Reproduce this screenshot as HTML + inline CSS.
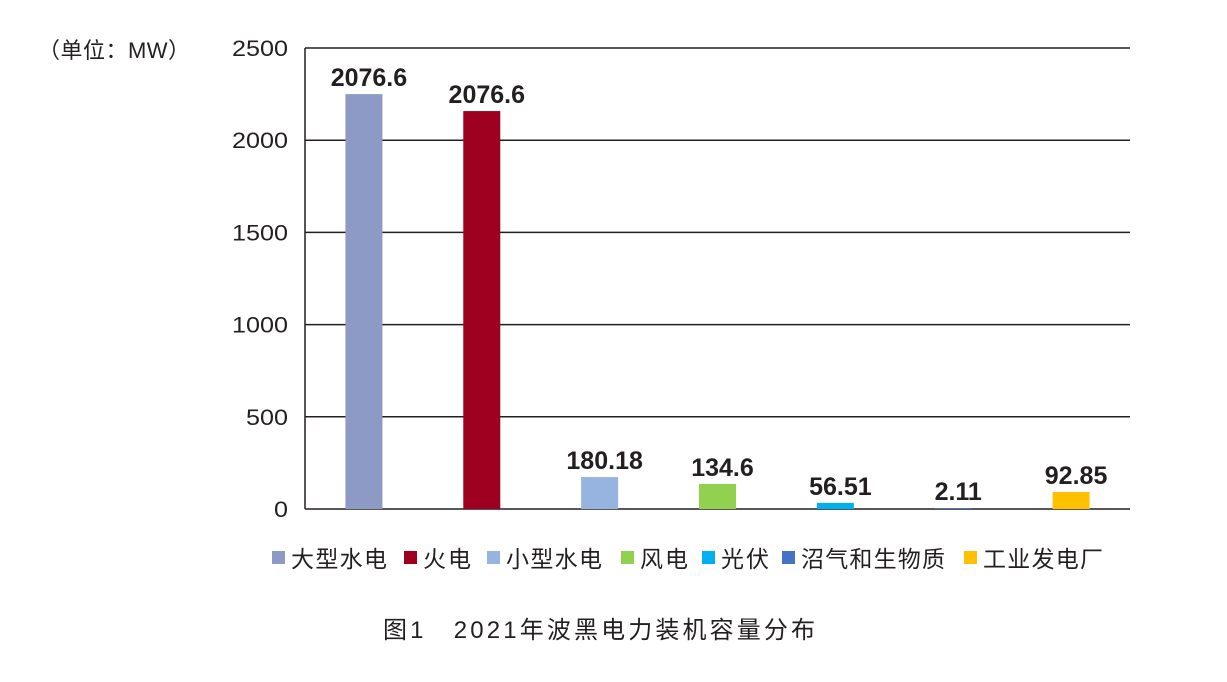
<!DOCTYPE html>
<html><head><meta charset="utf-8"><style>
body{margin:0;background:#fff;}
svg text{font-family:"Liberation Sans","Noto Sans CJK SC",sans-serif;fill:#231f20;}
</style></head><body>
<svg id="chart" width="1227" height="677" viewBox="0 0 1227 677" xmlns="http://www.w3.org/2000/svg">
<text x="38" y="58" font-size="22" textLength="152" lengthAdjust="spacing">（单位：MW）</text>
<g id="grid"></g><g id="bars"></g><g id="legend"></g>
<text x="383" y="638" font-size="24" textLength="432" lengthAdjust="spacing">图1　2021年波黑电力装机容量分布</text>
</svg>
<script>
const categories=["大型水电","火电","小型水电","风电","光伏","沼气和生物质","工业发电厂"];
const values=[2250,2158,173,136,33,5,92];
const valueLabels=["2076.6","2076.6","180.18","134.6","56.51","2.11","92.85"];
const colors=["#8d9ac6","#9e0020","#97b3e0","#92d050","#00b0f0","#4472c4","#ffc000"];
const yTicks=[0,500,1000,1500,2000,2500];
const legendX=[272,404,487,621,702,782,964];
const NS="http://www.w3.org/2000/svg";
const x0=305,x1=1130,yTop=48,yBot=509,yMax=2500;
const y=v=>yBot-(v/yMax)*(yBot-yTop);
const slot=(x1-x0)/categories.length;
const xc=i=>x0+slot*(i+0.5);
function mk(tag,attrs,parent){const e=document.createElementNS(NS,tag);for(const k in attrs)e.setAttribute(k,attrs[k]);parent.appendChild(e);return e;}
const grid=document.getElementById('grid');
yTicks.forEach(t=>{
 const l=mk('line',{x1:x0,x2:x1,y1:y(t),y2:y(t),stroke:'#231f20','stroke-width':1.5},grid);
 
 
 const s=String(t);
 const tx=mk('text',{x:288-s.length*14,y:y(t)+8,'font-size':22,textLength:s.length*14,lengthAdjust:'spacingAndGlyphs'},grid);
 tx.textContent=s;
 
 
});
const ax=mk('line',{x1:x0,x2:x0,y1:yTop,y2:yBot,stroke:'#231f20','stroke-width':1.5},grid);


const bars=document.getElementById('bars');
const bw=37;
values.forEach((v,i)=>{
 const r=mk('rect',{x:xc(i)-bw/2,y:y(v),width:bw,height:yBot-y(v),fill:colors[i]},bars);
 
 
 const t=mk('text',{x:xc(i)+5,y:y(v)-8,'text-anchor':'middle','font-size':25,'font-weight':'bold'},bars);
 t.textContent=valueLabels[i];
 
 
});
const lg=document.getElementById('legend');
categories.forEach((c,i)=>{
 const s=mk('rect',{x:legendX[i],y:551,width:13,height:13,fill:colors[i]},lg);
 
 
 const t=mk('text',{x:legendX[i]+19,y:567,'font-size':23,textLength:c.length*24,lengthAdjust:'spacing'},lg);
 t.textContent=c;
 
 
});
</script>
</body></html>
